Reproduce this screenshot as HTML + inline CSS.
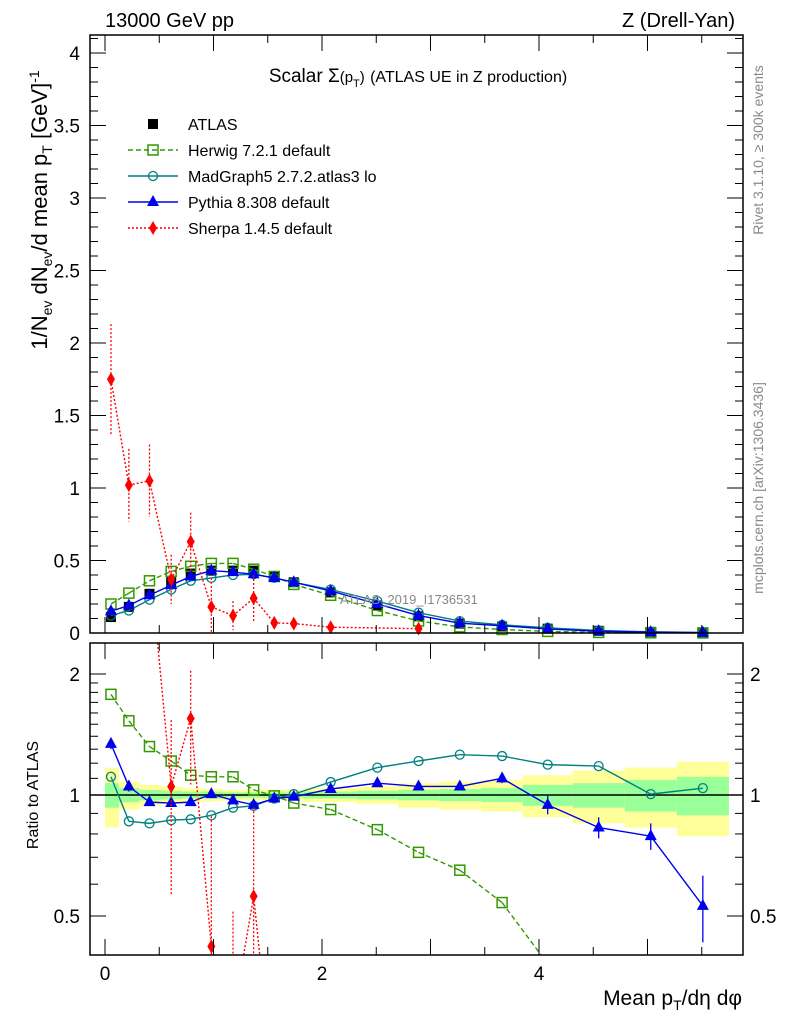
<!DOCTYPE html>
<html><head><meta charset="utf-8"><style>
html,body{margin:0;padding:0;background:#fff;width:786px;height:1024px;overflow:hidden;}
#wrap{position:relative;width:786px;height:1024px;overflow:hidden;}
svg{display:block;font-family:"Liberation Sans",sans-serif;}
#lab{position:absolute;left:0;top:0;}
</style></head><body>
<div id="wrap">
<svg id="c" width="786" height="1024" viewBox="0 0 786 1024"></svg>
<svg id="lab" width="786" height="1024" style="font-family:'Liberation Sans',sans-serif">
<text x="105" y="27" font-size="20">13000 GeV pp</text>
<text x="735" y="27" font-size="20" text-anchor="end">Z (Drell-Yan)</text>
<text x="418" y="82" font-size="19" text-anchor="middle">Scalar Σ<tspan font-size="15">(p</tspan><tspan font-size="11" dy="5">T</tspan><tspan font-size="15" dy="-5">)</tspan> <tspan font-size="16">(ATLAS UE in Z production)</tspan></text>
<text transform="translate(47,210) rotate(-90)" font-size="22" text-anchor="middle">1/N<tspan font-size="14" dy="5">ev</tspan><tspan dy="-5"> dN</tspan><tspan font-size="14" dy="5">ev</tspan><tspan dy="-5">/d mean p</tspan><tspan font-size="14" dy="5">T</tspan><tspan dy="-5"> [GeV]</tspan><tspan font-size="14" dy="-8">-1</tspan></text>
<text transform="translate(38,795) rotate(-90)" font-size="16" text-anchor="middle">Ratio to ATLAS</text>
<text x="742" y="1005" font-size="21" text-anchor="end">Mean p<tspan font-size="14" dy="5">T</tspan><tspan dy="-5">/dη dφ</tspan></text>
<text transform="translate(763,150) rotate(-90)" font-size="14" fill="#888" text-anchor="middle">Rivet 3.1.10, ≥ 300k events</text>
<text transform="translate(763,488) rotate(-90)" font-size="14" fill="#888" text-anchor="middle">mcplots.cern.ch [arXiv:1306.3436]</text>
</svg>
</div>
<script>
const edges=[0,0.13,0.32,0.52,0.71,0.90,1.09,1.27,1.47,1.65,1.83,2.32,2.70,3.08,3.47,3.85,4.31,4.79,5.27,5.75];
const centers=[0.055,0.22,0.41,0.61,0.79,0.98,1.18,1.37,1.56,1.74,2.08,2.51,2.89,3.27,3.66,4.08,4.55,5.03,5.51];
const atlas=[0.11,0.18,0.27,0.35,0.41,0.43,0.43,0.43,0.39,0.35,0.28,0.19,0.115,0.065,0.045,0.03,0.015,0.008,0.004];
const bandTot=[0.17,0.08,0.06,0.05,0.04,0.035,0.03,0.03,0.03,0.03,0.04,0.05,0.07,0.08,0.09,0.12,0.15,0.17,0.21];
const bandStat=[0.07,0.04,0.03,0.025,0.02,0.02,0.015,0.015,0.015,0.015,0.02,0.025,0.03,0.035,0.04,0.06,0.07,0.09,0.11];
const herwig=[0.20,0.275,0.36,0.425,0.46,0.48,0.48,0.44,0.39,0.335,0.26,0.155,0.083,0.042,0.024,0.011,0.004,0.0016,0.0005];
const herwigR=[1.78,1.53,1.32,1.215,1.12,1.11,1.11,1.03,0.995,0.955,0.92,0.82,0.72,0.65,0.54,0.38,0.28,0.2,0.12];
const madgraph=[0.12,0.155,0.23,0.30,0.36,0.38,0.40,0.405,0.38,0.35,0.30,0.22,0.14,0.082,0.056,0.036,0.018,0.008,0.004];
const madgraphR=[1.11,0.86,0.85,0.866,0.87,0.89,0.93,0.94,0.98,1.005,1.077,1.17,1.215,1.26,1.25,1.19,1.18,1.005,1.04];
const pythia=[0.15,0.19,0.26,0.33,0.39,0.43,0.42,0.405,0.38,0.35,0.29,0.20,0.12,0.068,0.05,0.028,0.012,0.006,0.002];
const pythiaR=[1.34,1.05,0.96,0.955,0.96,1.005,0.97,0.945,0.98,0.99,1.035,1.07,1.05,1.05,1.10,0.945,0.83,0.79,0.53];
const pythiaRErr=[0.04,0.03,0.02,0.01,0.01,0.01,0.01,0.01,0.01,0.01,0.01,0.01,0.02,0.02,0.03,0.05,0.05,0.06,0.1];
const sherpa=[1.75,1.02,1.05,0.37,0.63,0.18,0.12,0.24,0.07,0.065,0.04,null,0.03];
const sherpaErr=[0.38,0.25,0.25,0.17,0.2,0.2,0.1,0.16,0.04,0.03,0.02,null,0.01];
const sherpaR=[15.9,5.7,3.9,1.05,1.55,0.42,0.28,0.56,0.18,0.19,0.14,null,0.26];
const mainTicks=[0,0.5,1,1.5,2,2.5,3,3.5,4];
const ratioTicks=[0.5,1,2];
const xTicks=[0,2,4];

const svg=document.getElementById('c');
const NS='http://www.w3.org/2000/svg';
const L=90,R=743,T=35,B=633,RT=643,RB=955;
const X=v=>105+108.5*v;
const Y=v=>633-145*v;
const YR=r=>795-121*Math.log2(r);
function mk(tag,at,parent){const e=document.createElementNS(NS,tag);for(const k in at)e.setAttribute(k,at[k]);(parent||svg).appendChild(e);return e;}
function txt(s,x,y,size,anchor,parent){const t=mk('text',{x:x,y:y,'font-size':size,'text-anchor':anchor||'start',fill:'#000'},parent);t.textContent=s;return t;}
function clipSeg(x1,y1,x2,y2,ymin,ymax){
  let t0=0,t1=1;const dy=y2-y1;
  if(dy===0){if(y1<ymin||y1>ymax)return null;}
  else{let ta=(ymin-y1)/dy,tb=(ymax-y1)/dy;if(ta>tb)[ta,tb]=[tb,ta];t0=Math.max(t0,ta);t1=Math.min(t1,tb);if(t0>t1)return null;}
  return [x1+(x2-x1)*t0,y1+dy*t0,x1+(x2-x1)*t1,y1+dy*t1];
}

const gm=mk('g',{});


const gr=mk('g',{});



for(let i=0;i<edges.length-1;i++){
  const x0=X(edges[i]),x1=X(edges[i+1]);
  const b1=mk('rect',{x:x0,y:YR(1+bandTot[i]),width:x1-x0,height:YR(1-bandTot[i])-YR(1+bandTot[i]),fill:'#ffff99'},gr);
  
  
  const b2=mk('rect',{x:x0,y:YR(1+bandStat[i]),width:x1-x0,height:YR(1-bandStat[i])-YR(1+bandStat[i]),fill:'#99ff99'},gr);
  
  
}
mk('line',{x1:L,x2:R,y1:YR(1),y2:YR(1),stroke:'#000','stroke-width':1.5},gr);

function marker(type,x,y,color,g){
  let m;
  if(type==='sq') m=mk('rect',{x:x-5,y:y-5,width:10,height:10,fill:'none',stroke:color,'stroke-width':1.5},g);
  else if(type==='fsq') m=mk('rect',{x:x-5,y:y-5,width:10,height:10,fill:color},g);
  else if(type==='circ') m=mk('circle',{cx:x,cy:y,r:4.5,fill:'none',stroke:color,'stroke-width':1.3},g);
  else if(type==='tri') m=mk('polygon',{points:`${x},${y-7} ${x-6},${y+4} ${x+6},${y+4}`,fill:color},g);
  else m=mk('polygon',{points:`${x},${y-7} ${x-4},${y} ${x},${y+7} ${x+4},${y}`,fill:color},g);
  return m;
}
function series(name,vals,yf,color,dash,type,g,errs,ymin,ymax){
  const pts=[];
  vals.forEach((v,i)=>{if(v!==null&&v>0)pts.push([X(centers[i]),yf(v)]);});
  for(let k=0;k+1<pts.length;k++){
    const s=clipSeg(pts[k][0],pts[k][1],pts[k+1][0],pts[k+1][1],ymin,ymax);
    if(!s)continue;
    const p=mk('line',{x1:s[0],y1:s[1],x2:s[2],y2:s[3],stroke:color,'stroke-width':1.4,'stroke-dasharray':dash||'none'},g);
    
    
  }
  vals.forEach((v,i)=>{
    if(v===null||v<=0)return;
    const x=X(centers[i]);
    if(errs&&errs[i]){
      const e=errs[i];const lo=Math.max(v-e,0.001);
      let ya=Math.max(ymin,Math.min(ymax,yf(v+e))),yb=Math.max(ymin,Math.min(ymax,yf(lo)));
      if(yb>ya){
        const el=mk('line',{x1:x,x2:x,y1:ya,y2:yb,stroke:color,'stroke-width':1.3,'stroke-dasharray':dash==='2,2'?'2,2':'none'},g);
        
        
      }
    }
    const y=yf(v);
    if(y<ymin||y>ymax)return;
    const m=marker(type,x,y,color,g);
    
    
  });
}
atlas.forEach((v,i)=>{const m=marker('fsq',X(centers[i]),Y(v),'#000',gm);
  
  });
series('herwig',herwig,Y,'#339900','5,3','sq',gm,null,T,B);
series('madgraph',madgraph,Y,'#008080',null,'circ',gm,null,T,B);
series('pythia',pythia,Y,'#0000ee',null,'tri',gm,null,T,B);
series('sherpa',sherpa,Y,'#ff0000','2,2','dia',gm,sherpaErr,T,B);
series('herwig-ratio',herwigR,YR,'#339900','5,3','sq',gr,null,RT,RB);
series('madgraph-ratio',madgraphR,YR,'#008080',null,'circ',gr,null,RT,RB);
series('pythia-ratio',pythiaR,YR,'#0000ee',null,'tri',gr,pythiaRErr,RT,RB);
series('sherpa-ratio',sherpaR,YR,'#ff0000','2,2','dia',gr,sherpaErr.map((e,i)=>e===null?null:e/atlas[i]),RT,RB);

const wm=txt('ATLAS_2019_I1736531',340,604,13,'start');wm.setAttribute('fill','#888');



const f1=mk('rect',{x:L,y:T,width:R-L,height:B-T,fill:'none',stroke:'#000','stroke-width':1.5});


const f2=mk('rect',{x:L,y:RT,width:R-L,height:RB-RT,fill:'none',stroke:'#000','stroke-width':1.5});



const ga=mk('g',{stroke:'#000','stroke-width':1});
for(let k=0;k<=41;k++){const v=k/10;const y=Y(v);const maj=k%5===0;const l=maj?16:8;
  mk('line',{x1:L,x2:L+l,y1:y,y2:y},ga);mk('line',{x1:R,x2:R-l,y1:y,y2:y},ga);}
mainTicks.forEach(v=>{const t=txt(String(v),80,Y(v)+7,19,'end');
  
  });
[0.5,0.6,0.7,0.8,0.9,1,1.1,1.2,1.3,1.4,1.5,1.6,1.7,1.8,1.9,2].forEach(v=>{const y=YR(v);const maj=[0.5,1,2].includes(v);const l=maj?16:8;
  mk('line',{x1:L,x2:L+l,y1:y,y2:y},ga);mk('line',{x1:R,x2:R-l,y1:y,y2:y},ga);});
ratioTicks.forEach(v=>{const a=txt(String(v),80,YR(v)+7,19,'end');
  
  
  const b=txt(String(v),750,YR(v)+7,19,'start');
  
  });
for(let k=0;k<=11;k++){const v=k/2;const x=X(v);const l=k%2===0?16:8;
  mk('line',{x1:x,x2:x,y1:B,y2:B-l},ga);mk('line',{x1:x,x2:x,y1:T,y2:T+l},ga);
  mk('line',{x1:x,x2:x,y1:RB,y2:RB-l},ga);mk('line',{x1:x,x2:x,y1:RT,y2:RT+l},ga);}
xTicks.forEach(v=>{const t=txt(String(v),X(v),980,19,'middle');
  
  });

const lg=mk('g',{});


const leg=[['ATLAS','#000',null,'fsq'],['Herwig 7.2.1 default','#339900','5,3','sq'],['MadGraph5 2.7.2.atlas3 lo','#008080',null,'circ'],['Pythia 8.308 default','#0000ee',null,'tri'],['Sherpa 1.4.5 default','#ff0000','2,2','dia']];
leg.forEach((e,i)=>{const y=124+26*i;
  const g=mk('g',{},lg);
  
  
  if(i>0)mk('line',{x1:128,x2:178,y1:y,y2:y,stroke:e[1],'stroke-width':1.4,'stroke-dasharray':e[2]||'none'},g);
  marker(e[3],153,y,e[1],g);
  txt(e[0],188,y+6,16,'start',g);});
</script>
</body></html>
